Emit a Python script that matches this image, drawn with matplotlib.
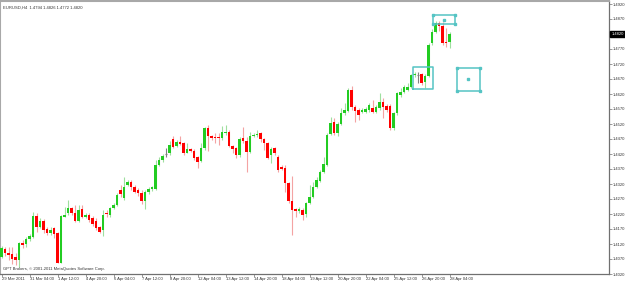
import numpy as np
import matplotlib
matplotlib.use('Agg')
import matplotlib.pyplot as plt

# EURUSD H4 candles (29 Mar 2011 20:00 onwards)
opens = [1.4078, 1.4103, 1.4089, 1.4087, 1.4076, 1.4067, 1.4124, 1.4120, 1.4136, 1.4144,
         1.4214, 1.4178, 1.4198, 1.4169, 1.4156, 1.4172, 1.4156, 1.4058, 1.4211, 1.4222,
         1.4239, 1.4224, 1.4198, 1.4236, 1.4211, 1.4217, 1.4206, 1.4198, 1.4176, 1.4167,
         1.4222, 1.4217, 1.4239, 1.4250, 1.4300, 1.4272, 1.4317, 1.4328, 1.4311, 1.4300,
         1.4291, 1.4264, 1.4292, 1.4302, 1.4302, 1.4383, 1.4400, 1.4419, 1.4422, 1.4469,
         1.4447, 1.4461, 1.4456, 1.4424, 1.4436, 1.4431, 1.4409, 1.4398, 1.4439, 1.4506,
         1.4480, 1.4478, 1.4478, 1.4472, 1.4489, 1.4494, 1.4447, 1.4439, 1.4417, 1.4472,
         1.4464, 1.4428, 1.4480, 1.4482, 1.4491, 1.4469, 1.4456, 1.4417, 1.4439, 1.4409,
         1.4378, 1.4372, 1.4324, 1.4264, 1.4236, 1.4231, 1.4233, 1.4220, 1.4256, 1.4276,
         1.4309, 1.4331, 1.4361, 1.4383, 1.4487, 1.4528, 1.4491, 1.4520, 1.4558, 1.4564,
         1.4633, 1.4578, 1.4567, 1.4561, 1.4561, 1.4567, 1.4572, 1.4561, 1.4572, 1.4594,
         1.4580, 1.4580, 1.4506, 1.4556, 1.4617, 1.4628, 1.4633, 1.4642, 1.4682, 1.4683,
         1.4686, 1.4661, 1.4680, 1.4789, 1.4828, 1.4858, 1.4847, 1.4794, 1.4794]
highs = [1.4113, 1.4109, 1.4111, 1.4111, 1.4089, 1.4127, 1.4133, 1.4142, 1.4153, 1.4228,
         1.4222, 1.4206, 1.4202, 1.4176, 1.4176, 1.4178, 1.4161, 1.4217, 1.4242, 1.4267,
         1.4244, 1.4250, 1.4250, 1.4250, 1.4224, 1.4222, 1.4213, 1.4206, 1.4180, 1.4233,
         1.4233, 1.4244, 1.4256, 1.4289, 1.4317, 1.4344, 1.4333, 1.4333, 1.4317, 1.4306,
         1.4300, 1.4300, 1.4309, 1.4313, 1.4400, 1.4411, 1.4420, 1.4439, 1.4464, 1.4480,
         1.4467, 1.4480, 1.4461, 1.4458, 1.4439, 1.4436, 1.4413, 1.4456, 1.4511, 1.4517,
         1.4483, 1.4489, 1.4489, 1.4513, 1.4517, 1.4500, 1.4450, 1.4442, 1.4478, 1.4511,
         1.4478, 1.4494, 1.4491, 1.4500, 1.4494, 1.4472, 1.4461, 1.4442, 1.4442, 1.4417,
         1.4383, 1.4383, 1.4328, 1.4347, 1.4239, 1.4242, 1.4239, 1.4261, 1.4317, 1.4328,
         1.4344, 1.4367, 1.4409, 1.4489, 1.4544, 1.4539, 1.4528, 1.4572, 1.4589, 1.4639,
         1.4647, 1.4583, 1.4572, 1.4572, 1.4578, 1.4589, 1.4600, 1.4583, 1.4622, 1.4606,
         1.4587, 1.4587, 1.4561, 1.4628, 1.4639, 1.4650, 1.4656, 1.4686, 1.4694, 1.4694,
         1.4691, 1.4686, 1.4789, 1.4836, 1.4864, 1.4864, 1.4861, 1.4839, 1.4826]
lows = [1.4072, 1.4080, 1.4067, 1.4053, 1.4050, 1.4044, 1.4106, 1.4111, 1.4131, 1.4139,
        1.4161, 1.4172, 1.4156, 1.4150, 1.4150, 1.4139, 1.4056, 1.4056, 1.4209, 1.4217,
        1.4217, 1.4194, 1.4194, 1.4206, 1.4208, 1.4194, 1.4180, 1.4167, 1.4156, 1.4147,
        1.4211, 1.4211, 1.4236, 1.4247, 1.4278, 1.4267, 1.4313, 1.4300, 1.4289, 1.4280,
        1.4253, 1.4237, 1.4287, 1.4298, 1.4300, 1.4380, 1.4394, 1.4411, 1.4417, 1.4439,
        1.4442, 1.4450, 1.4417, 1.4422, 1.4428, 1.4400, 1.4372, 1.4394, 1.4433, 1.4431,
        1.4467, 1.4456, 1.4450, 1.4467, 1.4483, 1.4444, 1.4422, 1.4406, 1.4411, 1.4456,
        1.4361, 1.4422, 1.4476, 1.4478, 1.4461, 1.4433, 1.4402, 1.4389, 1.4417, 1.4361,
        1.4367, 1.4294, 1.4258, 1.4150, 1.4211, 1.4224, 1.4200, 1.4211, 1.4253, 1.4272,
        1.4306, 1.4328, 1.4358, 1.4380, 1.4483, 1.4483, 1.4480, 1.4517, 1.4550, 1.4561,
        1.4567, 1.4528, 1.4533, 1.4556, 1.4558, 1.4561, 1.4556, 1.4556, 1.4567, 1.4539,
        1.4561, 1.4500, 1.4500, 1.4550, 1.4611, 1.4624, 1.4631, 1.4639, 1.4676, 1.4656,
        1.4650, 1.4639, 1.4678, 1.4783, 1.4822, 1.4831, 1.4783, 1.4778, 1.4772]
closes = [1.4106, 1.4089, 1.4082, 1.4071, 1.4068, 1.4122, 1.4118, 1.4136, 1.4147, 1.4214,
          1.4178, 1.4198, 1.4167, 1.4156, 1.4167, 1.4153, 1.4058, 1.4213, 1.4217, 1.4239,
          1.4222, 1.4198, 1.4233, 1.4211, 1.4217, 1.4200, 1.4187, 1.4172, 1.4161, 1.4217,
          1.4219, 1.4239, 1.4250, 1.4283, 1.4286, 1.4311, 1.4328, 1.4309, 1.4294, 1.4289,
          1.4264, 1.4294, 1.4303, 1.4309, 1.4383, 1.4400, 1.4413, 1.4419, 1.4450, 1.4444,
          1.4461, 1.4452, 1.4424, 1.4436, 1.4431, 1.4406, 1.4394, 1.4439, 1.4506, 1.4480,
          1.4472, 1.4472, 1.4472, 1.4494, 1.4494, 1.4447, 1.4436, 1.4417, 1.4469, 1.4463,
          1.4428, 1.4480, 1.4483, 1.4486, 1.4469, 1.4456, 1.4406, 1.4437, 1.4422, 1.4367,
          1.4371, 1.4322, 1.4264, 1.4233, 1.4231, 1.4236, 1.4217, 1.4256, 1.4278, 1.4311,
          1.4333, 1.4361, 1.4387, 1.4483, 1.4524, 1.4489, 1.4520, 1.4556, 1.4567, 1.4633,
          1.4578, 1.4564, 1.4550, 1.4567, 1.4569, 1.4583, 1.4561, 1.4578, 1.4594, 1.4578,
          1.4567, 1.4506, 1.4556, 1.4622, 1.4628, 1.4642, 1.4642, 1.4683, 1.4686, 1.4683,
          1.4658, 1.4680, 1.4783, 1.4828, 1.4858, 1.4847, 1.4791, 1.4791, 1.4820]

# bottom axis labels, one every 8 bars
date_labels = ['29 Mar 2011', '31 Mar 04:00', '1 Apr 12:00', '4 Apr 20:00', '6 Apr 04:00',
               '7 Apr 12:00', '8 Apr 20:00', '12 Apr 04:00', '13 Apr 12:00', '14 Apr 20:00',
               '18 Apr 04:00', '19 Apr 12:00', '20 Apr 20:00', '22 Apr 04:00', '25 Apr 12:00',
               '26 Apr 20:00', '28 Apr 04:00']
price_ticks = [1.4920 - 0.005 * k for k in range(19)]
last_price = 1.4820
header = 'EURUSD,H4  1.4794 1.4826 1.4772 1.4820'
footer = 'GPT Brokers, \u00a9 2001-2011 MetaQuotes Software Corp.'

# drawn rectangle objects: (bar from, bar to, price low, price high, selected)
rect_top = (123.3, 129.6, 1.4853, 1.4883, True)
rect_mid = (117.6, 123.3, 1.4637, 1.4710, False)
rect_right = (130.1, 136.7, 1.4630, 1.4707, True)

UP = '#22cc22'
DOWN = '#ff0000'
UP_WICK = '#9fdf9f'
DOWN_WICK = '#f4a3a3'
DOJI = '#808080'
OBJ = '#55c4c4'

o = np.array(opens)
h = np.array(highs)
l = np.array(lows)
c = np.array(closes)
x = np.arange(len(o))

fig = plt.figure(figsize=(6.25, 2.83), dpi=100)
ax = fig.add_axes([0.0, 9 / 283, 609 / 625, 273 / 283])
ax.set_facecolor('white')

up = c > o
down = c < o
doji = c == o

wick_col = np.where(up, UP_WICK, np.where(down, DOWN_WICK, DOJI))
ax.vlines(x, l, h, colors=wick_col, lw=0.8, zorder=2)
ax.bar(x[up], c[up] - o[up], bottom=o[up], width=0.65, color=UP, lw=0, zorder=3)
ax.bar(x[down], c[down] - o[down], bottom=o[down], width=0.65, color=DOWN, lw=0, zorder=3)
ax.hlines(o[doji], x[doji] - 0.4, x[doji] + 0.4, colors=DOJI, lw=0.8, zorder=3)

for x0, x1, y0, y1, sel in [rect_top, rect_mid, rect_right]:
    ax.plot([x0, x1, x1, x0, x0], [y0, y0, y1, y1, y0], color=OBJ, lw=1.1, zorder=4)
    if sel:
        ax.plot([x0, x1, x1, x0, (x0 + x1) / 2], [y0, y0, y1, y1, (y0 + y1) / 2], 's',
                ms=1.8, mfc=OBJ, mec=OBJ, zorder=5)

ax.set_xlim(-0.43, 173.57)
ax.set_ylim(1.4020, 1.4930)

# axis styling like the terminal
for side in ['left', 'top']:
    ax.spines[side].set_color('#a8a8a8')
    ax.spines[side].set_linewidth(1.5)
for side in ['right', 'bottom']:
    ax.spines[side].set_color('#707070')
    ax.spines[side].set_linewidth(0.9)

font = {'family': 'Liberation Sans', 'size': 3.0, 'color': '#333333'}

ax.yaxis.tick_right()
ax.set_yticks(price_ticks)
ax.set_yticklabels(['' if abs(p - last_price) < 1e-6 else f'{p:.4f}' for p in price_ticks],
                   fontdict=font)
ax.tick_params(axis='y', length=2, width=0.5, pad=1, colors='#707070')
for t in ax.get_yticklabels():
    t.set_color('#333333')

ax.set_xticks(np.arange(len(date_labels)) * 8)
ax.set_xticklabels(date_labels, fontdict=font, ha='left')
ax.tick_params(axis='x', length=2, width=0.5, pad=0.3, colors='#707070')
for t in ax.get_xticklabels():
    t.set_color('#333333')

ax.text(1.004, last_price, f'{last_price:.4f}', transform=ax.get_yaxis_transform(),
        va='center', ha='left', family='Liberation Sans', size=3.0, color='white',
        bbox=dict(boxstyle='square,pad=0.25', fc='black', ec='black'), clip_on=False)

ax.text(0.005, 0.985, header, transform=ax.transAxes, va='top', ha='left',
        family='Liberation Sans', size=3.0, color='#333333')
ax.text(0.005, 0.012, footer, transform=ax.transAxes, va='bottom', ha='left',
        family='Liberation Sans', size=3.0, color='#333333')

fig.savefig('out.png', dpi=100, facecolor='white')
